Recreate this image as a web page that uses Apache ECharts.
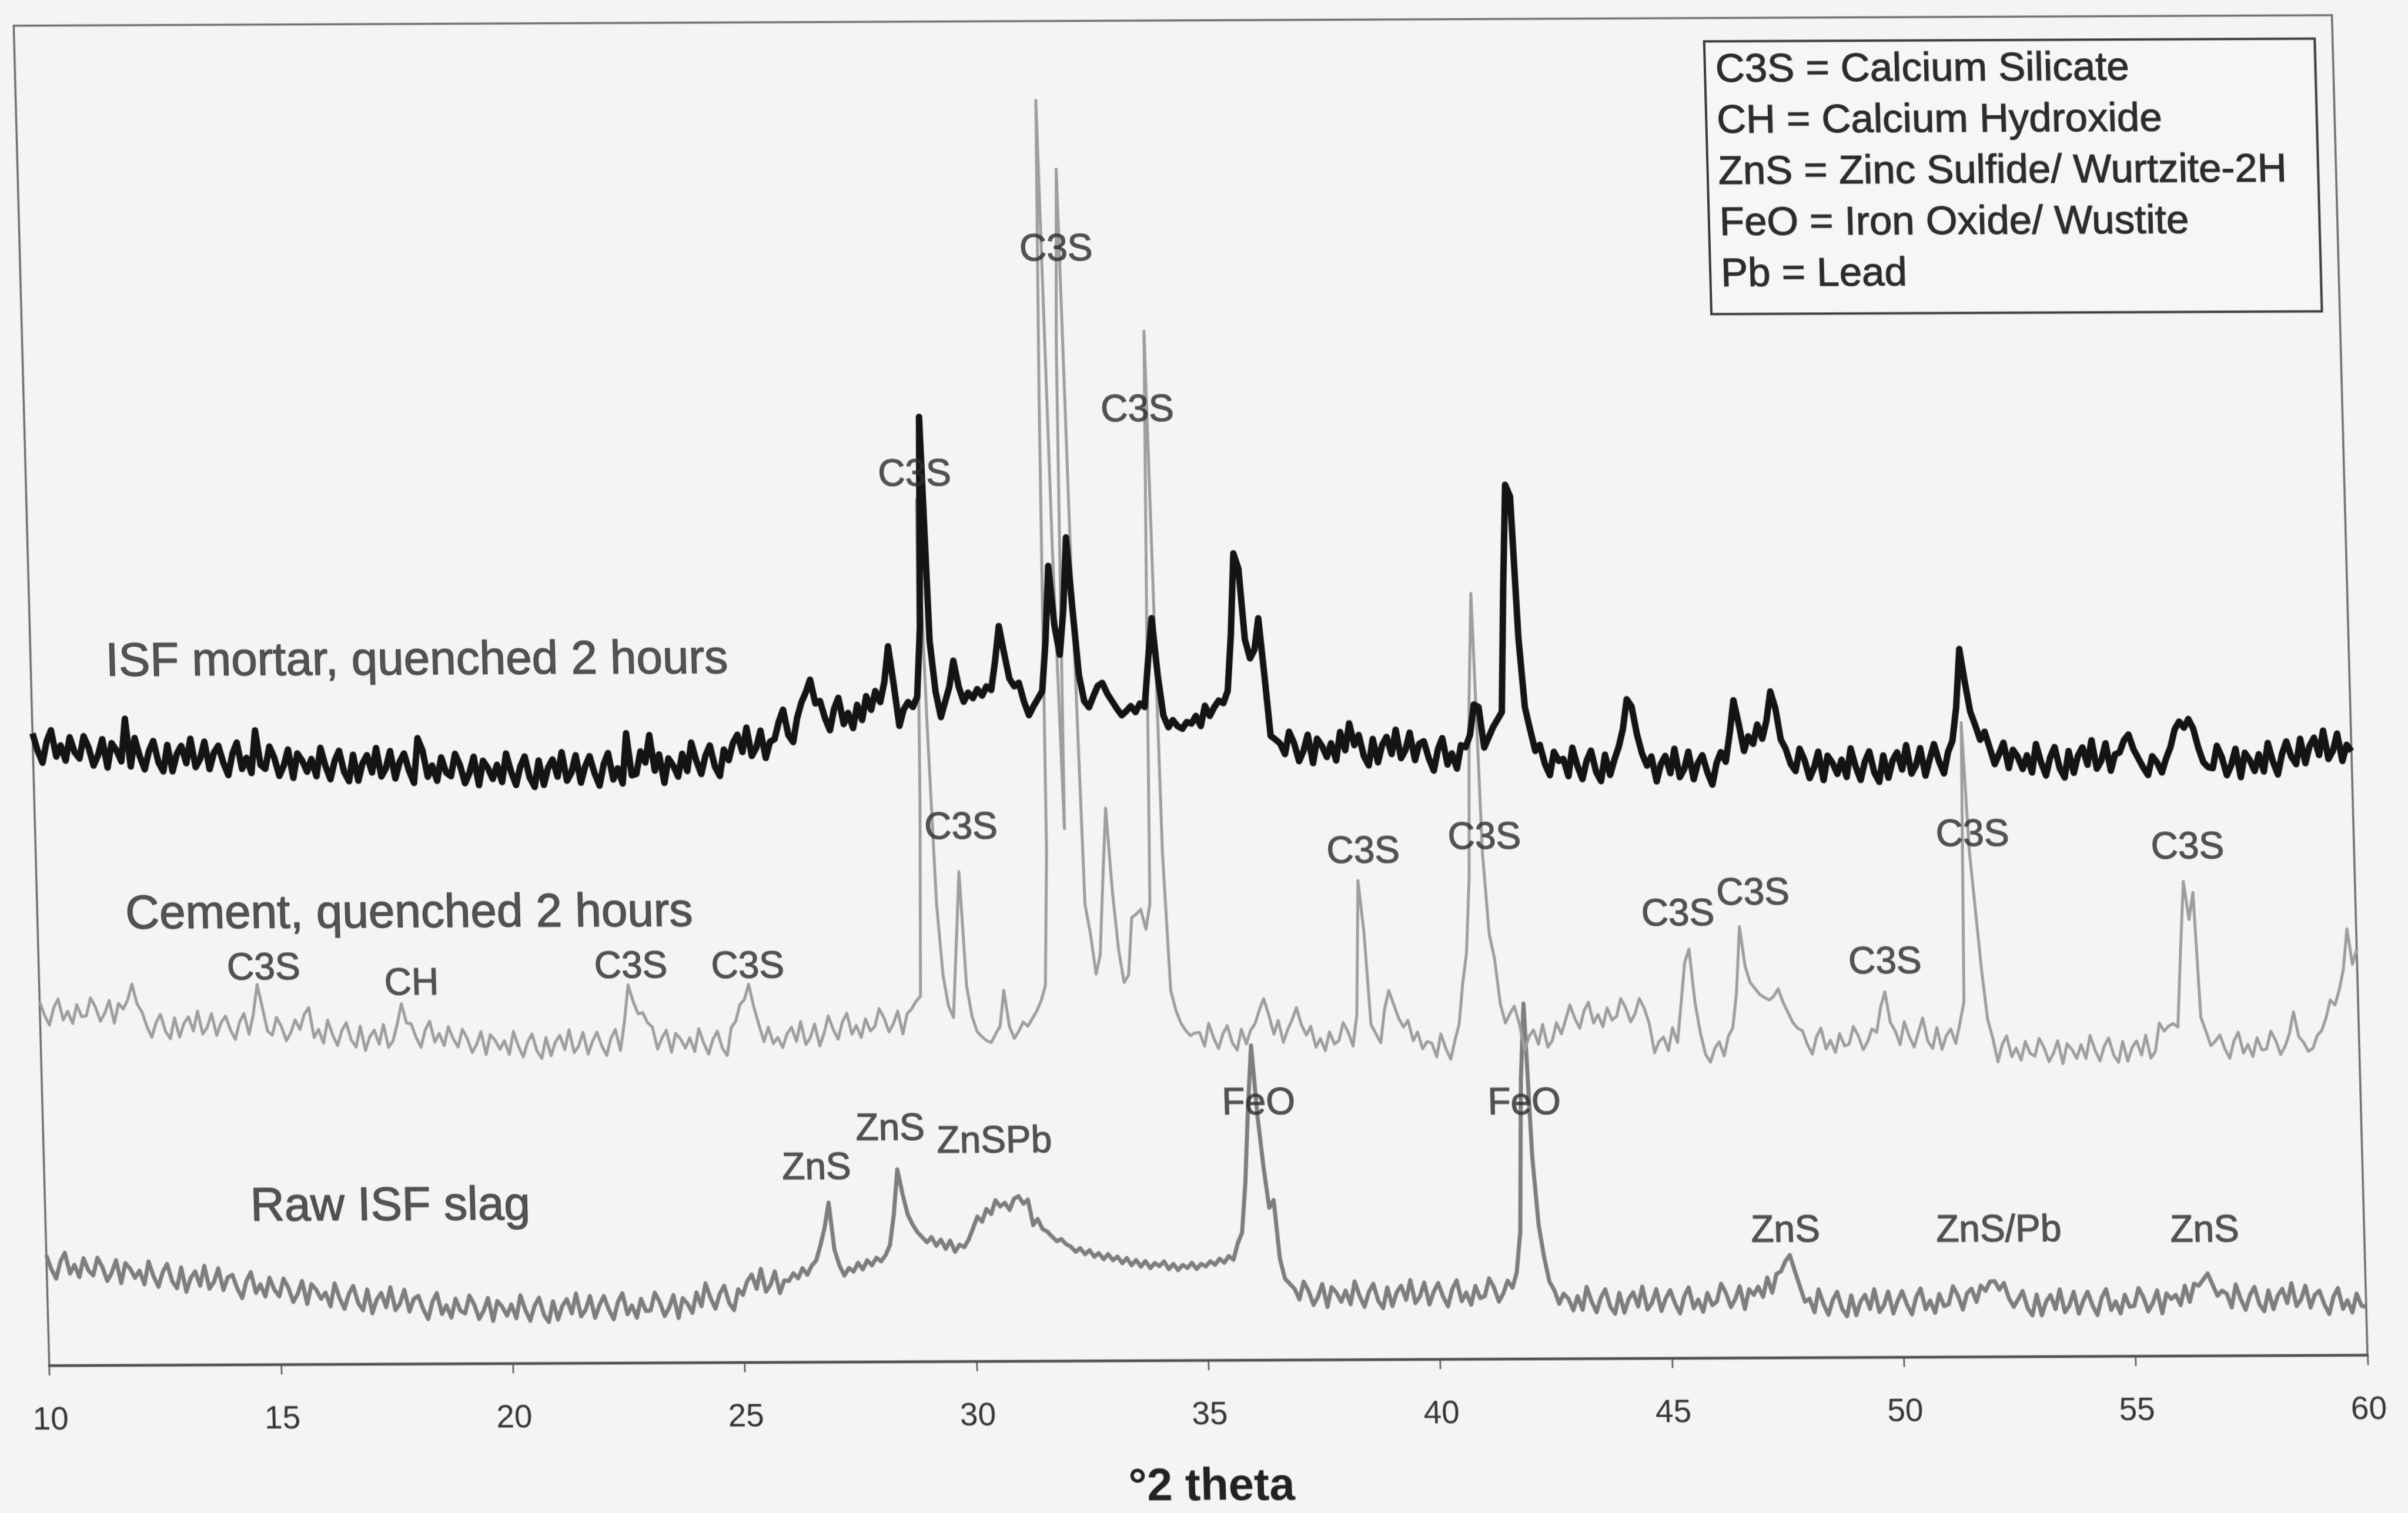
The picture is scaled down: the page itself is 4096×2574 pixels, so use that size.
<!DOCTYPE html>
<html>
<head>
<meta charset="utf-8">
<title>XRD patterns</title>
<script src="https://cdn.jsdelivr.net/npm/echarts@6/dist/echarts.min.js"></script>
<style>
  html, body { margin: 0; padding: 0; background: #f4f4f4; overflow: hidden; }
  /* the printed figure sits slightly sheared and tilted on the page */
  #chart {
    width: 4096px; height: 2574px;
    transform-origin: 2054.6px 1176.8px;
    transform: rotate(-0.26deg) skewX(1.26deg);
  }
</style>
</head>
<body>
<div id="chart"></div>
<script>
// Scan grid: 2-theta from 10 to 60 degrees in 0.1 degree steps
const thetaStart = 10;
const thetaStep = 0.1;
const thetaCount = 501;

// Stacked intensities (arbitrary units, offset per pattern), one row per degree
const isfMortar = [
  1246, 1212, 1188, 1230, 1252, 1200, 1222, 1192, 1238, 1208,
  1196, 1240, 1218, 1182, 1202, 1234, 1178, 1226, 1212, 1190,
  1274, 1180, 1236, 1200, 1174, 1210, 1230, 1188, 1170, 1222,
  1170, 1204, 1220, 1186, 1234, 1178, 1194, 1228, 1174, 1206,
  1220, 1186, 1162, 1204, 1226, 1174, 1196, 1166, 1250, 1182,
  1174, 1218, 1196, 1160, 1180, 1212, 1156, 1204, 1190, 1168,
  1193, 1159, 1215, 1179, 1153, 1189, 1209, 1167, 1149, 1201,
  1150, 1184, 1200, 1166, 1214, 1158, 1174, 1208, 1154, 1186,
  1203, 1169, 1145, 1233, 1209, 1157, 1179, 1149, 1195, 1165,
  1158, 1202, 1180, 1144, 1164, 1196, 1140, 1188, 1174, 1152,
  1180, 1146, 1202, 1166, 1140, 1176, 1196, 1154, 1136, 1188,
  1140, 1174, 1190, 1156, 1204, 1148, 1164, 1198, 1144, 1176,
  1196, 1162, 1138, 1180, 1202, 1150, 1172, 1142, 1241, 1158,
  1161, 1205, 1183, 1237, 1167, 1199, 1143, 1191, 1177, 1155,
  1200, 1166, 1222, 1186, 1160, 1196, 1216, 1174, 1156, 1208,
  1187, 1221, 1237, 1203, 1251, 1195, 1211, 1245, 1191, 1223,
  1228, 1262, 1286, 1236, 1222, 1270, 1300, 1320, 1345, 1298,
  1303, 1269, 1245, 1287, 1309, 1257, 1279, 1249, 1295, 1265,
  1312, 1285, 1322, 1300, 1340, 1410, 1335, 1253, 1285, 1300,
  1290, 1310, 1450, 1862, 1420, 1320, 1270, 1300, 1330, 1381,
  1330, 1300, 1318, 1307, 1325, 1312, 1330, 1323, 1380, 1449,
  1395, 1345, 1330, 1337, 1300, 1273, 1290, 1305, 1320, 1420,
  1567, 1450, 1392, 1480, 1623, 1480, 1352, 1300, 1288, 1310,
  1330, 1336, 1315, 1300, 1285, 1272, 1280, 1290, 1278, 1295,
  1288, 1380, 1463, 1350, 1271, 1248, 1262, 1250, 1245, 1258,
  1255, 1270, 1250, 1290, 1270, 1287, 1300, 1295, 1319, 1430,
  1590, 1560, 1420, 1383, 1400, 1462, 1350, 1230, 1223, 1215,
  1194, 1238, 1216, 1180, 1200, 1232, 1176, 1224, 1210, 1188,
  1215, 1181, 1237, 1201, 1254, 1211, 1231, 1189, 1171, 1223,
  1177, 1211, 1227, 1193, 1241, 1185, 1201, 1235, 1181, 1213,
  1218, 1184, 1160, 1202, 1224, 1172, 1194, 1164, 1210, 1206,
  1230, 1290, 1285, 1205, 1225, 1245, 1260, 1275, 1520, 1723,
  1700, 1420, 1284, 1240, 1198, 1210, 1172, 1150, 1196, 1178,
  1182, 1148, 1204, 1168, 1142, 1178, 1198, 1156, 1138, 1190,
  1150, 1180, 1205, 1240, 1299, 1285, 1230, 1192, 1168, 1186,
  1137, 1171, 1187, 1153, 1201, 1145, 1161, 1195, 1141, 1173,
  1188, 1154, 1130, 1172, 1194, 1175, 1230, 1296, 1250, 1196,
  1225, 1210, 1248, 1220, 1255, 1313, 1280, 1218, 1200, 1170,
  1156, 1200, 1178, 1142, 1162, 1194, 1138, 1186, 1172, 1150,
  1178, 1144, 1200, 1164, 1138, 1174, 1194, 1152, 1134, 1186,
  1142, 1176, 1192, 1158, 1206, 1150, 1166, 1200, 1146, 1178,
  1208, 1174, 1150, 1192, 1214, 1280, 1395, 1330, 1272, 1245,
  1216, 1232, 1200, 1168, 1188, 1210, 1160, 1196, 1182, 1158,
  1185, 1151, 1207, 1171, 1145, 1181, 1201, 1159, 1141, 1193,
  1150, 1184, 1200, 1166, 1214, 1158, 1174, 1208, 1154, 1186,
  1190, 1214, 1225, 1196, 1178, 1160, 1145, 1182, 1170, 1150,
  1178, 1200, 1235, 1250, 1238, 1255, 1236, 1198, 1170, 1160,
  1158, 1202, 1180, 1144, 1164, 1196, 1140, 1188, 1174, 1152,
  1185, 1151, 1207, 1171, 1145, 1185, 1210, 1180, 1165, 1215,
  1167, 1201, 1217, 1183, 1231, 1175, 1191, 1225, 1171, 1203,
  1190
];

const cement = [
  717, 690, 671, 705, 722, 681, 698, 674, 711, 687,
  689, 724, 706, 678, 694, 719, 674, 713, 702, 720,
  751, 712, 696, 667, 646, 675, 691, 657, 643, 684,
  646, 673, 686, 658, 697, 652, 665, 692, 649, 674,
  687, 660, 641, 675, 692, 651, 690, 749, 704, 657,
  649, 684, 666, 638, 654, 679, 660, 690, 703, 644,
  660, 633, 678, 649, 628, 657, 673, 639, 625, 666,
  618, 645, 658, 630, 669, 624, 637, 670, 710, 672,
  670, 643, 624, 658, 675, 634, 651, 627, 664, 640,
  624, 659, 641, 613, 629, 654, 609, 648, 637, 619,
  636, 609, 654, 625, 604, 633, 649, 615, 601, 642,
  606, 633, 646, 618, 657, 612, 625, 652, 609, 634,
  652, 625, 606, 640, 657, 616, 672, 745, 712, 688,
  690, 670, 662, 618, 640, 655, 612, 649, 638, 620,
  640, 613, 658, 629, 608, 637, 653, 619, 605, 660,
  672, 705, 715, 745, 700, 665, 632, 660, 628, 640,
  620, 647, 660, 632, 671, 626, 639, 666, 623, 648,
  682, 655, 636, 670, 687, 646, 663, 639, 676, 652,
  661, 696, 678, 650, 666, 691, 646, 685, 695, 710,
  720, 1100, 1700, 1250, 900, 760, 700, 678, 820, 965,
  740, 680, 650, 640, 632, 628, 645, 660, 731, 660,
  636, 650, 668, 660, 675, 690, 710, 740, 1000, 1900,
  2485, 1600, 1049, 2000, 2349, 1500, 900, 842, 762, 800,
  950, 1089, 922, 809, 745, 760, 873, 880, 889, 850,
  900, 1500, 2029, 1000, 729, 690, 665, 650, 640, 645,
  646, 619, 664, 635, 614, 643, 659, 625, 611, 652,
  623, 650, 663, 690, 712, 680, 642, 669, 626, 651,
  670, 694, 660, 640, 657, 616, 633, 609, 646, 622,
  629, 664, 646, 618, 680, 944, 842, 660, 642, 624,
  690, 727, 700, 672, 655, 668, 628, 645, 612, 626,
  623, 596, 641, 612, 591, 628, 660, 740, 800, 950,
  1300, 1509, 1000, 838, 790, 700, 662, 680, 695, 660,
  608, 635, 648, 620, 659, 614, 627, 662, 640, 668,
  697, 670, 651, 685, 702, 661, 678, 654, 691, 667,
  674, 709, 691, 663, 679, 709, 690, 660, 602, 624,
  633, 606, 651, 622, 700, 780, 806, 700, 640, 598,
  583, 610, 623, 595, 634, 650, 720, 850, 772, 740,
  728, 716, 710, 705, 712, 727, 700, 680, 660, 649,
  644, 617, 598, 632, 649, 608, 625, 601, 638, 614,
  617, 652, 634, 606, 622, 647, 640, 690, 720, 660,
  643, 616, 661, 632, 611, 640, 668, 622, 608, 649,
  606, 633, 646, 618, 657, 700, 1250, 1000, 880, 760,
  665, 628, 581, 615, 632, 591, 608, 584, 621, 597,
  592, 627, 609, 581, 597, 622, 577, 616, 605, 587,
  614, 587, 632, 603, 582, 611, 627, 593, 579, 620,
  581, 608, 621, 593, 632, 587, 600, 656, 640, 650,
  655, 648, 800, 935, 860, 913, 667, 640, 611, 620,
  632, 605, 586, 620, 637, 596, 613, 589, 626, 602,
  604, 639, 621, 593, 609, 634, 677, 628, 617, 599,
  605, 630, 640, 665, 700, 690, 720, 760, 840, 770,
  800
];

const rawSlag = [
  217, 190, 171, 205, 222, 181, 198, 174, 211, 187,
  177, 212, 194, 166, 182, 207, 162, 201, 190, 172,
  186, 159, 204, 175, 154, 183, 199, 165, 151, 192,
  144, 171, 184, 156, 195, 150, 163, 190, 147, 172,
  177, 150, 131, 165, 182, 141, 158, 134, 171, 147,
  134, 169, 151, 123, 139, 164, 119, 158, 147, 129,
  141, 114, 159, 130, 109, 138, 154, 120, 106, 147,
  100, 127, 140, 112, 151, 106, 119, 146, 103, 128,
  134, 107, 88, 122, 139, 98, 115, 91, 128, 104,
  99, 134, 116, 88, 104, 129, 84, 123, 112, 94,
  116, 89, 134, 105, 84, 113, 129, 95, 81, 122,
  86, 113, 126, 98, 137, 92, 105, 132, 89, 114,
  132, 105, 86, 120, 137, 96, 113, 89, 126, 102,
  103, 138, 120, 92, 108, 133, 88, 127, 116, 98,
  138, 111, 156, 127, 106, 135, 151, 117, 103, 144,
  133, 160, 173, 145, 184, 139, 152, 179, 136, 161,
  160, 175, 165, 185, 172, 190, 200, 230, 265, 314,
  221, 190, 170, 185, 178, 195, 182, 200, 190, 205,
  198, 210, 230, 290, 379, 330, 290, 270, 255, 245,
  235, 245, 228, 240, 222, 238, 216, 230, 225, 240,
  262, 285, 275, 300, 290, 317, 305, 312, 298, 320,
  325, 310, 318, 268, 280, 260, 255, 245, 236, 240,
  230, 225, 215, 222, 210, 218, 205, 212, 200, 210,
  198, 205, 192, 202, 188, 198, 185, 196, 182, 192,
  186, 195, 180, 190, 178, 188, 182, 192, 180, 190,
  185, 195, 188, 200, 192, 205, 198, 230, 251, 350,
  500, 620, 480, 380, 300, 315, 200, 160, 150, 140,
  119, 154, 136, 108, 124, 149, 104, 143, 132, 114,
  136, 109, 154, 125, 104, 133, 149, 115, 101, 142,
  105, 132, 145, 117, 156, 111, 124, 151, 108, 133,
  150, 123, 104, 138, 155, 114, 131, 107, 144, 120,
  124, 159, 141, 113, 129, 154, 140, 170, 250, 550,
  700, 400, 264, 200, 152, 135, 108, 128, 118, 95,
  123, 96, 141, 112, 91, 120, 136, 102, 88, 129,
  90, 117, 130, 102, 141, 96, 109, 136, 93, 118,
  134, 107, 88, 122, 139, 98, 115, 91, 128, 104,
  111, 146, 128, 100, 116, 141, 96, 135, 124, 140,
  120, 158, 128, 165, 170, 190, 202, 170, 140, 110,
  116, 89, 134, 105, 84, 113, 129, 95, 81, 122,
  83, 110, 123, 95, 134, 89, 102, 129, 86, 111,
  130, 103, 84, 118, 135, 94, 111, 87, 124, 100,
  104, 139, 121, 93, 125, 134, 108, 140, 130, 148,
  149, 132, 145, 115, 98, 113, 129, 95, 81, 122,
  81, 108, 121, 93, 132, 87, 100, 127, 84, 109,
  127, 100, 81, 115, 132, 91, 108, 84, 121, 97,
  99, 134, 116, 88, 104, 129, 84, 123, 112, 120,
  100, 138, 106, 142, 138, 150, 162, 140, 118, 128,
  122, 95, 140, 111, 90, 119, 135, 101, 87, 128,
  91, 118, 131, 103, 142, 97, 110, 137, 94, 119,
  127, 100, 81, 115, 132, 91, 108, 84, 121, 97,
  95
];

// Phase labels placed in data space: [text, 2-theta, intensity]
const phaseLabels = [
  ['C3S', 32.35, 2189], ['C3S', 34.01, 1872], ['C3S', 29.17, 1747],
  ['C3S', 29.97, 1051], ['C3S', 38.63, 1000], ['C3S', 41.25, 1026],
  ['C3S', 51.78, 1027], ['C3S', 56.41, 1001], ['C3S', 45.38, 873],
  ['C3S', 47.01, 914], ['C3S', 14.85, 779], ['CH', 18.03, 748],
  ['C3S', 22.77, 779], ['C3S', 25.29, 778], ['C3S', 49.82, 777],
  ['FeO', 36.23, 505], ['FeO', 41.96, 502], ['ZnS', 28.27, 457],
  ['ZnSPb', 30.51, 432], ['ZnS', 26.66, 381], ['ZnS', 47.52, 249],
  ['ZnS/Pb', 52.12, 247], ['ZnS', 56.56, 245]
];

// Pattern names, left-aligned at [2-theta, intensity]
const patternNames = [
  ['ISF mortar, quenched 2 hours', 11.62, 1385],
  ['Cement, quenched 2 hours', 11.90, 887],
  ['Raw ISF slag', 14.43, 309]
];

const keyLines = [
  'C3S = Calcium Silicate',
  'CH = Calcium Hydroxide',
  'ZnS = Zinc Sulfide/ Wurtzite-2H',
  'FeO = Iron Oxide/ Wustite',
  'Pb = Lead'
];

const twoTheta = Array.from({ length: thetaCount }, (_, i) => +(thetaStart + i * thetaStep).toFixed(1));
const pairs = (vals) => twoTheta.map((t, i) => [t, vals[i]]);

const FONT = '"Liberation Sans", Arial, Helvetica, sans-serif';
const TEXT = '#2c2c2c';
const chart = echarts.init(document.getElementById('chart'), null, { renderer: 'canvas' });

chart.setOption({
  animation: false,
  backgroundColor: 'transparent',
  textStyle: { fontFamily: FONT },
  grid: {
    left: 53.6, right: 99.1, top: 34.6, bottom: 257.6,
    show: true, borderColor: '#707070', borderWidth: 3.5, backgroundColor: 'transparent'
  },
  xAxis: {
    type: 'value', min: 10, max: 60, interval: 5,
    axisLine: { show: true, onZero: false, lineStyle: { color: '#4d4d4d', width: 4.5 } },
    axisTick: { show: true, length: 17, lineStyle: { color: '#555', width: 2.5 } },
    axisLabel: { fontSize: 55, color: '#363636', margin: 66, fontFamily: FONT },
    splitLine: { show: false },
    name: '\u00B02 theta', nameLocation: 'middle', nameGap: 177,
    nameTextStyle: { fontSize: 78, fontWeight: 'bold', color: '#222', fontFamily: FONT }
  },
  yAxis: { type: 'value', min: 0, max: 2641, show: false },
  series: [
    {
      name: 'Raw ISF slag', type: 'line', data: pairs(rawSlag), symbol: 'none',
      lineStyle: { color: '#7e7e7e', width: 7, join: 'round' }, silent: true, z: 2
    },
    {
      name: 'Cement, quenched 2 hours', type: 'line', data: pairs(cement), symbol: 'none',
      lineStyle: { color: '#9e9e9e', width: 5, join: 'round' }, silent: true, z: 3
    },
    {
      name: 'ISF mortar, quenched 2 hours', type: 'line', data: pairs(isfMortar), symbol: 'none',
      lineStyle: { color: '#141414', width: 11, join: 'round' }, silent: true, z: 4
    },
    {
      type: 'scatter', silent: true, z: 6, symbolSize: 1,
      itemStyle: { color: 'rgba(0,0,0,0)' },
      data: phaseLabels.map(l => ({ name: l[0], value: [l[1], l[2]] })),
      label: {
        show: true, position: 'inside', formatter: '{b}',
        fontSize: 64, color: TEXT, fontFamily: FONT, align: 'center', verticalAlign: 'middle',
        textBorderColor: TEXT, textBorderWidth: 1.2
      }
    },
    {
      type: 'scatter', silent: true, z: 6, symbolSize: 1,
      itemStyle: { color: 'rgba(0,0,0,0)' },
      data: patternNames.map(l => ({ name: l[0], value: [l[1], l[2]] })),
      label: {
        show: true, position: 'inside', formatter: '{b}',
        fontSize: 80, color: TEXT, fontFamily: FONT, align: 'left', verticalAlign: 'middle',
        textBorderColor: TEXT, textBorderWidth: 1.4
      }
    }
  ],
  graphic: [
    {
      type: 'rect', z: 10,
      shape: { x: 2928, y: 74.3, width: 1038.5, height: 464 },
      style: { fill: '#f6f6f6', stroke: '#3c3c3c', lineWidth: 4 }
    }
  ].concat(keyLines.map((t, i) => ({
    type: 'text', z: 11, x: 2946, y: 123.6 + i * 87,
    style: {
      text: t, font: '69px ' + FONT, fill: TEXT,
      stroke: TEXT, lineWidth: 1.2,
      verticalAlign: 'middle', textVerticalAlign: 'middle', align: 'left'
    }
  })))
});
</script>
</body>
</html>
